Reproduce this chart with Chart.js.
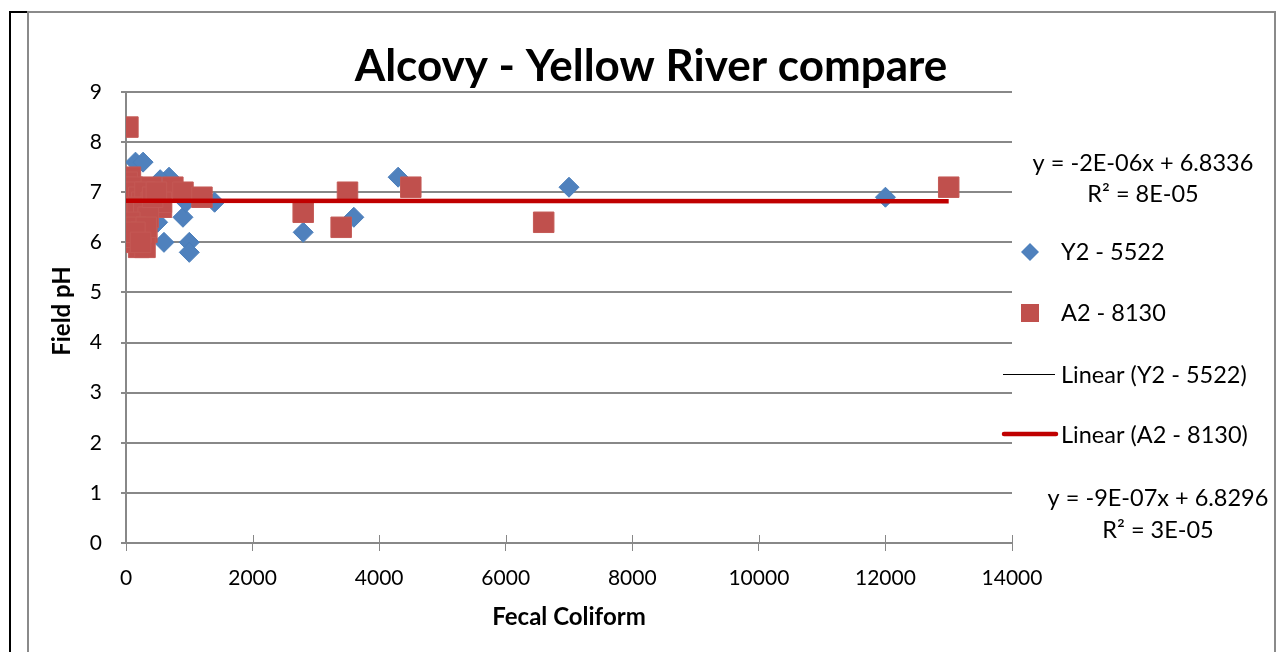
<!DOCTYPE html>
<html><head><meta charset="utf-8">
<script src="https://cdn.jsdelivr.net/npm/chart.js@4.4.0/dist/chart.umd.min.js"></script>
<style>html,body{margin:0;padding:0;background:#fff;overflow:hidden}#wrap{width:1277px;height:652px;position:relative}</style>
</head><body><div id="wrap"><canvas id="c" width="1277" height="652"></canvas></div>
<script>
const chartTitle = 'Alcovy - Yellow River compare';
const xAxisTitle = 'Fecal Coliform';
const yAxisTitle = 'Field pH';
const seriesNames = ['Y2 - 5522', 'A2 - 8130'];
const trendNames = ['Linear (Y2 - 5522)', 'Linear (A2 - 8130)'];

// Y2 - 5522 (blue diamonds)
const y2X = [12000, 7000, 4300, 3600, 2800, 150, 270, 600, 680, 540, 1400, 900, 600, 1000, 1000, 500, 10, 950,
             50, 100, 200, 300, 400, 250, 350, 120, 80, 450];
const y2Y = [6.9, 7.1, 7.3, 6.5, 6.2, 7.6, 7.6, 7.2, 7.3, 7.25, 6.8, 6.5, 6.0, 6.0, 5.8, 6.4, 6.2, 6.8,
             7.0, 6.8, 6.6, 7.0, 6.8, 6.2, 6.4, 7.1, 6.5, 7.1];

// A2 - 8130 (red squares)
const a2X = [13000, 6600, 4500, 3500, 3400, 2800, 30,
             70, 20, 0, 10, 0, 20, 10, 30, 50, 100, 150, 200, 250, 400, 300, 400, 450, 560, 500, 740, 900, 1200,
             100, 150, 250, 330, 90, 200, 300, 200, 300, 120, 560,
             180, 280, 350, 60, 160, 240, 320, 420, 480, 60, 140, 230];
const a2Y = [7.1, 6.4, 7.1, 7.0, 6.3, 6.6, 8.3,
             7.3, 7.2, 7.1, 7.0, 6.9, 6.8, 6.6, 6.5, 6.3, 7.1, 7.0, 6.9, 6.8, 7.1, 7.0, 6.8, 6.7, 6.7, 6.9, 7.1, 7.0, 6.9,
             6.6, 6.4, 6.5, 6.2, 6.2, 5.9, 5.9, 6.1, 6.4, 6.0, 6.8,
             6.7, 6.6, 6.5, 6.4, 6.3, 6.2, 6.3, 6.9, 7.0, 6.1, 6.2, 6.0];

// Trendline coefficients (as shown on the chart)
const trendSlope = [-2e-6, -9e-7];
const trendIntercept = [6.8336, 6.8296];
const trendEqText = [['y = -2E-06x + 6.8336', 'R\u00B2 = 8E-05'], ['y = -9E-07x + 6.8296', 'R\u00B2 = 3E-05']];

const xTickValues = [0, 2000, 4000, 6000, 8000, 10000, 12000, 14000];
const yTickValues = [0, 1, 2, 3, 4, 5, 6, 7, 8, 9];

const FONT = 'Lato';
const GRID = '#888888';
const BLUE = '#4F81BD';
const RED = '#C0504D';
const TREND_RED = '#C00000';

function pts(xs, ys) { return xs.map((x, i) => ({ x: x, y: ys[i] })); }
function trendPts(xs, k) {
  const lo = Math.min(...xs), hi = Math.max(...xs);
  return [{ x: lo, y: trendIntercept[k] + trendSlope[k] * lo }, { x: hi, y: trendIntercept[k] + trendSlope[k] * hi }];
}

const decor = {
  id: 'decor',
  beforeDraw(chart) {
    const ctx = chart.ctx;
    ctx.save();
    ctx.fillStyle = '#fff';
    ctx.fillRect(0, 0, chart.width, chart.height);
    ctx.strokeStyle = '#000'; ctx.lineWidth = 2;
    ctx.beginPath(); ctx.moveTo(10, 652); ctx.lineTo(10, 12); ctx.lineTo(28, 12); ctx.stroke();
    ctx.strokeStyle = '#8a8a8a'; ctx.lineWidth = 2;
    ctx.beginPath(); ctx.moveTo(28, 652); ctx.lineTo(28, 12); ctx.lineTo(1275, 12); ctx.lineTo(1275, 652); ctx.stroke();
    ctx.restore();
  },
  afterDraw(chart) {
    const ctx = chart.ctx;
    const xs = chart.scales.x, ys = chart.scales.y;
    ctx.save();
    ctx.strokeStyle = GRID; ctx.lineWidth = 1;
    xs.ticks.forEach(t => {
      const px = Math.round(xs.getPixelForValue(t.value)) + 0.5;
      ctx.beginPath(); ctx.moveTo(px, ys.bottom - 8); ctx.lineTo(px, ys.bottom); ctx.stroke();
    });
    ctx.fillStyle = '#000';
    ctx.font = 'bold 44px ' + FONT;
    ctx.textAlign = 'center'; ctx.textBaseline = 'alphabetic';
    ctx.fillText(chartTitle, 651, 81);
    ctx.font = 'bold 24px ' + FONT;
    ctx.textBaseline = 'middle';
    ctx.fillText(xAxisTitle, (xs.left + xs.right) / 2, 617);
    ctx.save();
    ctx.translate(62, 311); ctx.rotate(-Math.PI / 2);
    ctx.fillText(yAxisTitle, 0, 0);
    ctx.restore();
    ctx.font = '23.5px ' + FONT;
    ctx.fillText(trendEqText[0][0], 1143, 163);
    ctx.fillText(trendEqText[0][1], 1143, 194);
    ctx.fillText(trendEqText[1][0], 1158, 498);
    ctx.fillText(trendEqText[1][1], 1158, 530);
    ctx.textAlign = 'left';
    ctx.fillStyle = BLUE;
    ctx.beginPath(); ctx.moveTo(1030, 243); ctx.lineTo(1039, 252); ctx.lineTo(1030, 261); ctx.lineTo(1021, 252); ctx.closePath(); ctx.fill();
    ctx.fillStyle = RED;
    ctx.fillRect(1021, 304, 18, 18);
    ctx.strokeStyle = '#000'; ctx.lineWidth = 1.2;
    ctx.beginPath(); ctx.moveTo(1003, 374.5); ctx.lineTo(1055, 374.5); ctx.stroke();
    ctx.strokeStyle = TREND_RED; ctx.lineWidth = 4.5; ctx.lineCap = 'round';
    ctx.beginPath(); ctx.moveTo(1004, 434); ctx.lineTo(1056, 434); ctx.stroke();
    ctx.fillStyle = '#000';
    ctx.fillText(seriesNames[0], 1061, 252);
    ctx.fillText(seriesNames[1], 1061, 313);
    ctx.fillText(trendNames[0], 1061, 375);
    ctx.fillText(trendNames[1], 1061, 435);
    ctx.restore();
  }
};

new Chart(document.getElementById('c'), {
  type: 'scatter',
  data: {
    datasets: [
      { label: trendNames[1], data: trendPts(a2X, 1), showLine: true, borderColor: TREND_RED, borderWidth: 4.5,
        pointRadius: 0, fill: false, order: 0 },
      { label: trendNames[0], data: trendPts(y2X, 0), showLine: true, borderColor: '#000', borderWidth: 1,
        pointRadius: 0, fill: false, order: 1 },
      { label: seriesNames[1], data: pts(a2X, a2Y), pointStyle: 'rect', pointRadius: 14.5, pointHoverRadius: 14.5,
        backgroundColor: RED, borderColor: '#C45955', borderWidth: 1, order: 2 },
      { label: seriesNames[0], data: pts(y2X, y2Y), pointStyle: 'rectRot', pointRadius: 10, pointHoverRadius: 10,
        backgroundColor: BLUE, borderColor: '#4A7EBB', borderWidth: 1, order: 3 }
    ]
  },
  options: {
    responsive: false, animation: false, devicePixelRatio: 1,
    layout: { padding: { left: 0, right: 265, top: 92, bottom: 0 } },
    plugins: { legend: { display: false }, title: { display: false }, tooltip: { enabled: false } },
    scales: {
      x: {
        type: 'linear', min: 0, max: 14000,
        afterBuildTicks(s) { s.ticks = xTickValues.map(v => ({ value: v })); },
        afterFit(s) { s.height = 109; },
        border: { color: GRID, width: 2 },
        grid: { drawOnChartArea: false, drawTicks: true, tickLength: 8, color: GRID, lineWidth: 1 },
        ticks: { color: '#000', font: { family: FONT, size: 21 }, padding: 15, maxRotation: 0, autoSkip: false,
                 callback: v => String(v) }
      },
      y: {
        type: 'linear', min: 0, max: 9,
        afterBuildTicks(s) { s.ticks = yTickValues.map(v => ({ value: v })); },
        afterFit(s) { s.width = 126; },
        border: { color: GRID, width: 2 },
        grid: { color: GRID, lineWidth: 2, drawTicks: true, tickLength: 5 },
        ticks: { color: '#000', font: { family: FONT, size: 21 }, padding: 19, autoSkip: false,
                 callback: v => String(v) }
      }
    }
  },
  plugins: [decor]
});
</script></body></html>
